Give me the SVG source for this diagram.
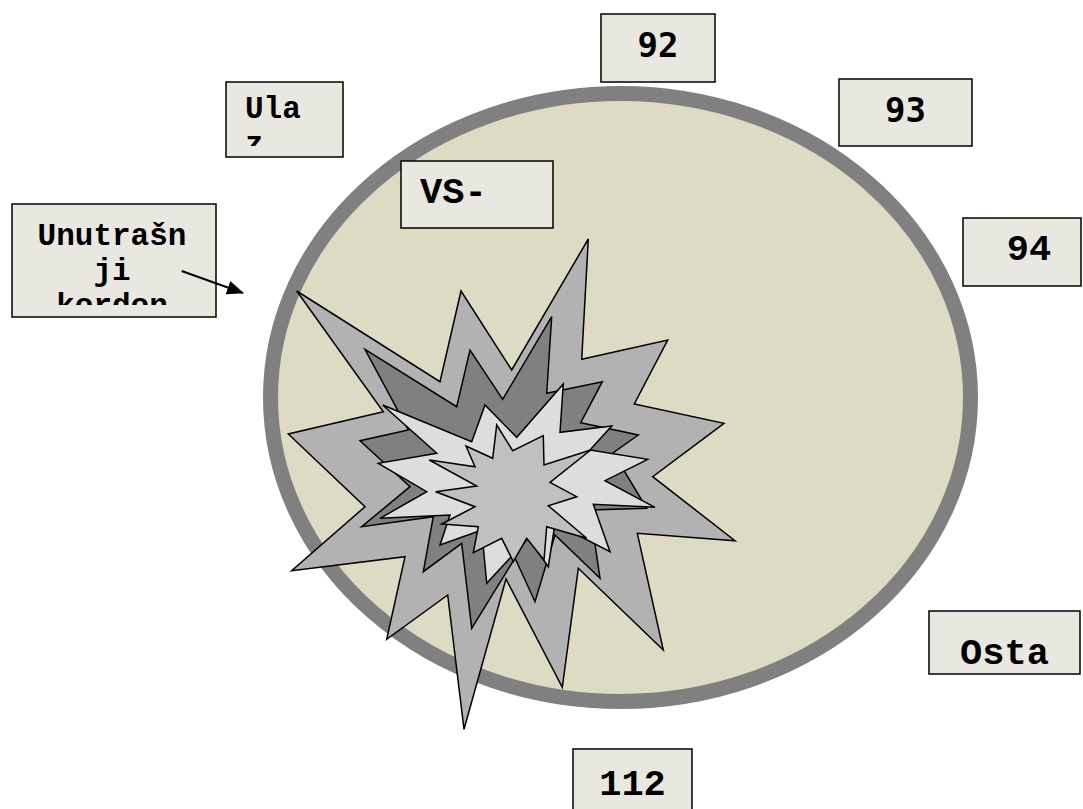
<svg xmlns="http://www.w3.org/2000/svg" width="1083" height="809" viewBox="0 0 1083 809">
  <style>
    .box { fill: #E8E8E0; stroke: #000; stroke-width: 1.5; }
    .lbl { font-family: "Liberation Mono", "Courier New", monospace; font-weight: bold; fill: #000; }
    .big { font-size: 37px; }
    .small { font-size: 31px; }
    .sans { font-family: "DejaVu Sans Mono", "Liberation Mono", monospace; font-size: 34px; }
    .blast { stroke: #000; stroke-width: 1.5; stroke-linejoin: miter; }
  </style>
  <defs>
    <marker id="arrowhead" markerWidth="17" markerHeight="14" refX="16" refY="7" orient="auto" markerUnits="userSpaceOnUse">
      <path d="M0,0 L17,7 L0,14 Z" fill="#000"/>
    </marker>
    <clipPath id="clip-ulaz"><rect x="226" y="82" width="117" height="64"/></clipPath>
    <clipPath id="clip-kordon"><rect x="12" y="204" width="204" height="101"/></clipPath>
  </defs>

  <rect width="1083" height="809" fill="#fff"/>

  <!-- zone ellipse -->
  <g id="zone">
    <ellipse cx="620.5" cy="397.5" rx="350" ry="304" fill="#DDDBC3" stroke="#808080" stroke-width="15"/>
  </g>

  <!-- explosion, outer to inner -->
  <g id="explosion">
    <polygon class="blast" fill="#B2B2B2" points="296.7,291 440,381.7 461,291 511.7,370 588.3,239 581.7,359.3 667.7,340 634.3,404 724,423.3 652.7,476.7 735,540.7 637.3,533.3 663.3,650 578.3,568.3 562.3,687.3 506,579 464,729.3 447.7,595 386.7,639.3 405,556.7 291.7,570.7 365,506.7 288.3,434 383.3,411.7"/>
    <polygon class="blast" fill="#808080" points="365,349.3 456.7,406.7 470,350 502.7,399.3 551.7,316.7 546.7,393.3 602.3,381.7 580.7,422.7 638.3,435 613.3,452.7 646.7,508.3 590,510 600,578.3 555,535 535,601.7 515,558 471.7,628.3 461.7,543.3 423.3,571.7 433.3,516.7 361.7,526.7 410,486.7 360,440.7 408.3,430"/>
    <polygon class="blast" fill="#DDDDDD" points="382.7,405 471.7,441.7 485,405 516.7,437.3 563.3,384 560,432.3 611.7,426 590,450 647.7,459.3 605,480.7 655,507.3 593.3,504.3 610,551.7 555,523.3 548.3,566.7 528.3,538.3 486.7,583.3 481.7,530 440,545 450,515 380,518.3 426.7,491.7 378.3,463.3 436.7,453.3"/>
    <polygon class="blast" fill="#C0C0C0" points="496.7,425 512.7,450.7 543.3,435.7 544,465 590.7,450 550,482.3 576.7,496.7 548.3,505.7 586.7,538.3 546.7,526.7 544,560 526.7,538.3 513.3,561.7 501.7,538.3 473.3,552.7 478.3,526.7 441.7,524 475,506.7 435.7,491.7 476.7,486 429.3,460 475,466.7 466,446 492.7,458.3"/>
  </g>

  <!-- label boxes -->
  <g id="node-92">
    <rect class="box" x="601" y="14" width="114" height="68"/>
    <text class="lbl sans" x="658" y="57" text-anchor="middle">92</text>
  </g>
  <g id="node-93">
    <rect class="box" x="839" y="79" width="133" height="67"/>
    <text class="lbl sans" x="905.5" y="122" text-anchor="middle">93</text>
  </g>
  <g id="node-94">
    <rect class="box" x="963" y="218" width="118" height="68"/>
    <text class="lbl big" x="1029" y="260" text-anchor="middle">94</text>
  </g>
  <g id="node-osta">
    <rect class="box" x="929" y="611" width="151" height="63"/>
    <text class="lbl big" x="1004.5" y="664" text-anchor="middle">Osta</text>
  </g>
  <g id="node-112">
    <rect class="box" x="573" y="749" width="119" height="70"/>
    <text class="lbl big" x="632.5" y="795" text-anchor="middle">112</text>
  </g>
  <g id="node-vs">
    <rect class="box" x="401" y="161" width="152" height="67"/>
    <text class="lbl big" x="420" y="203">VS-</text>
  </g>
  <g id="node-ulaz">
    <rect class="box" x="226" y="82" width="117" height="75"/>
    <g clip-path="url(#clip-ulaz)">
      <text class="lbl small" x="245" y="118">Ula</text>
      <text class="lbl small" x="245" y="153">z</text>
    </g>
  </g>
  <g id="node-kordon">
    <rect class="box" x="12" y="204" width="204" height="113"/>
    <g clip-path="url(#clip-kordon)">
      <text class="lbl small" x="112" y="245" text-anchor="middle">Unutrašn</text>
      <text class="lbl small" x="112" y="280" text-anchor="middle">ji</text>
      <text class="lbl small" x="112" y="315" text-anchor="middle">kordon</text>
    </g>
  </g>

  <!-- connectors -->
  <g id="connectors">
    <line x1="181.7" y1="271" x2="243" y2="293" stroke="#000" stroke-width="2" marker-end="url(#arrowhead)"/>
  </g>
</svg>
